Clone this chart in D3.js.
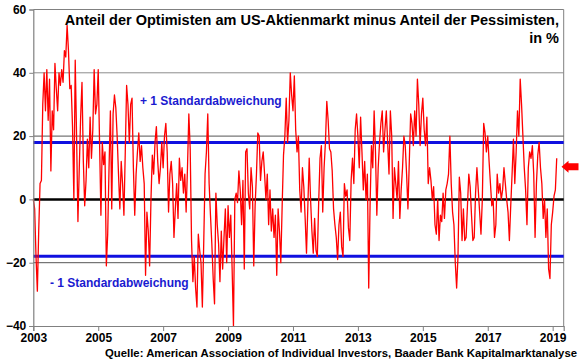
<!DOCTYPE html>
<html><head><meta charset="utf-8">
<script src="https://cdn.jsdelivr.net/npm/d3@7"></script>
<style>
html,body{margin:0;padding:0;background:#fff;}
svg{display:block;font-family:"Liberation Sans",Arial,sans-serif;}
</style></head>
<body><svg id="chart" width="580" height="359"></svg>
<script>
// semi-monthly readings (value in %), index i -> year + i/24
const v2003 = [0,-3,-18,-29,-10,5,6,30,40,28,41,25,38,9,28,22,43,35,28,40,36,41,37,47];
const v2004 = [45,55,47,35,36,23,0,44,20,-7,10,26,37,12,-2,6,19,10,26,13,22,41,27,30];
const v2005 = [41,18,-5,18,11,15,-21,-11,10,28,-3,27,33,29,20,8,-3,12,5,-5,15,36,30,18];
const v2006 = [30,32,10,-5,8,15,21,12,17,10,5,-24,-4,-10,-21,0,14,8,18,23,12,5,10,18];
const v2007 = [10,20,24,15,-4,8,12,5,-12,-3,5,-6,13,6,10,2,8,-4,10,27,16,-13,-26,-18];
const v2008 = [-28,-34,-11,-16,-20,-34,-14,8,15,27,5,-5,-14,-25,-33,2,-8,-14,-26,-10,-22,-12,-3,-20];
const v2009 = [-2,-12,-5,-22,-40,0,2,-1,9,3,-8,6,-22,15,16,2,-3,10,4,-21,-2,8,21,20];
const v2010 = [6,12,15,8,0,8,-8,3,-10,-3,-12,-5,-24,-3,-10,-20,-2,14,20,32,18,25,40,33];
const v2011 = [28,39,22,15,20,3,-4,10,4,-6,-17,-2,13,0,-10,-17,-6,-16,-18,-1,13,17,-4,10];
const v2012 = [18,31,25,16,15,9,-3,-8,-12,-19,-8,-4,-15,-18,5,1,3,-9,-13,6,13,5,22,27];
const v2013 = [20,10,26,15,3,12,0,8,-28,-2,17,10,28,15,-5,10,18,24,28,15,22,28,18,8];
const v2014 = [28,20,-6,10,5,0,12,-6,3,10,20,17,8,-3,12,27,24,17,28,20,38,30,17,27];
const v2015 = [32,22,17,26,5,10,6,0,4,-8,-11,0,-13,-5,-7,2,-6,3,5,8,20,5,-4,-8];
const v2016 = [-20,-28,-18,7,2,-13,-3,-13,-12,-2,8,4,-5,-13,-12,2,10,3,-4,-11,0,24,21,15];
const v2017 = [20,12,5,-2,0,-12,-8,8,2,5,0,3,10,5,0,-4,-13,-2,8,19,5,15,28,20];
const v2018 = [38,30,20,10,3,-8,10,15,13,17,8,-12,5,14,18,10,5,-6,0,-12,-3,-22,-25,-8];
const v2019 = [-4,1,3,13];
const years = [2003,2004,2005,2006,2007,2008,2009,2010,2011,2012,2013,2014,2015,2016,2017,2018,2019];
const yearValues = [v2003,v2004,v2005,v2006,v2007,v2008,v2009,v2010,v2011,v2012,v2013,v2014,v2015,v2016,v2017,v2018,v2019];
const stdBand = [18,-18];
const yTicks = [-40,-20,0,20,40,60];
const xTicks = [2003,2005,2007,2009,2011,2013,2015,2017,2019];
const latestMarker = 10;
const titleLine1 = "Anteil der Optimisten am US-Aktienmarkt minus Anteil der Pessimisten,";
const titleLine2 = "in %";
const bandLabels = ["+ 1 Standardabweichung","- 1 Standardabweichung"];
const sourceText = "Quelle: American Association of Individual Investors, Baader Bank Kapitalmarktanalyse";

const data = [];
years.forEach((yr,k)=>{ yearValues[k].forEach((v,i)=>data.push({t: yr + i/24, v})); });

const svg = d3.select("#chart");
const x = d3.scaleLinear().domain([2003, 2019.34]).range([33.3, 563.7]);
const y = d3.scaleLinear().domain([-40, 60]).range([326, 9.5]);

// frame top/right
svg.append("line").attr("x1",x(2003)).attr("x2",x(2019.34)).attr("y1",y(60)).attr("y2",y(60)).attr("stroke","#808080").attr("stroke-width",1);
svg.append("line").attr("x1",x(2019.34)).attr("x2",x(2019.34)).attr("y1",y(60)).attr("y2",y(-40)).attr("stroke","#808080").attr("stroke-width",1);

// gridlines
[40,20,-20].forEach(g=>{
  svg.append("line").attr("x1",x(2003)).attr("x2",x(2019.34)).attr("y1",y(g)).attr("y2",y(g))
    .attr("stroke", g===40 ? "#8c8c8c" : "#555").attr("stroke-width",1);
});

// std lines
stdBand.forEach(s=>{
  svg.append("line").attr("x1",x(2003)).attr("x2",x(2019.34)).attr("y1",y(s)).attr("y2",y(s))
    .attr("stroke","#1010e0").attr("stroke-width",3);
});
// zero line
svg.append("line").attr("x1",x(2003)).attr("x2",x(2019.34)).attr("y1",y(0)).attr("y2",y(0)).attr("stroke","#000").attr("stroke-width",2.5);

// series
svg.append("path").datum(data)
  .attr("fill","none").attr("stroke","#ff0000").attr("stroke-width",1.3).attr("stroke-linejoin","round")
  .attr("d", d3.line().x(d=>x(d.t)).y(d=>y(d.v)));

// axes
const yAxis = d3.axisLeft(y).tickValues(yTicks).tickSize(4).tickPadding(3).tickFormat(d3.format("d"));
const gy = svg.append("g").attr("transform",`translate(${x(2003)},0)`).call(yAxis);
const xAxis = d3.axisBottom(x).tickValues(xTicks).tickSize(5).tickPadding(2).tickFormat(d3.format("d"));
const gx = svg.append("g").attr("transform",`translate(0,${y(-40)})`).call(xAxis);
[gx,gy].forEach(g=>{
  g.select(".domain").attr("stroke","#808080").attr("stroke-width",1.2);
  g.selectAll(".tick line").attr("stroke","#808080");
  g.selectAll("text").attr("font-size",12).attr("font-weight","bold").attr("fill","#000")
   .attr("font-family","'Liberation Sans',Arial,sans-serif");
});
gx.selectAll("text").attr("dy","0.72em");

// title
svg.append("text").attr("x",559).attr("y",25).attr("text-anchor","end").attr("font-size",14.5).attr("font-weight","bold").text(titleLine1);
svg.append("text").attr("x",559).attr("y",43).attr("text-anchor","end").attr("font-size",14.5).attr("font-weight","bold").text(titleLine2);

// band labels
svg.append("text").attr("x",140).attr("y",105).attr("font-size",12).attr("font-weight","bold").attr("fill","#1a1ad0").text(bandLabels[0]);
svg.append("text").attr("x",50).attr("y",287).attr("font-size",12).attr("font-weight","bold").attr("fill","#1a1ad0").text(bandLabels[1]);

// source
svg.append("text").attr("x",577).attr("y",356.5).attr("text-anchor","end").attr("font-size",11.3).attr("font-weight","bold")
  .attr("textLength",472).attr("lengthAdjust","spacingAndGlyphs").text(sourceText);

// arrow marker
const ay = y(latestMarker) - 1;
const ax = 561.5;
svg.append("path").attr("fill","#ff0000")
  .attr("d", `M${ax},${ay} L${ax+7},${ay-6} L${ax+7},${ay-3.5} L${ax+17},${ay-3.5} L${ax+17},${ay+3.5} L${ax+7},${ay+3.5} L${ax+7},${ay+6} Z`);
</script></body></html>
